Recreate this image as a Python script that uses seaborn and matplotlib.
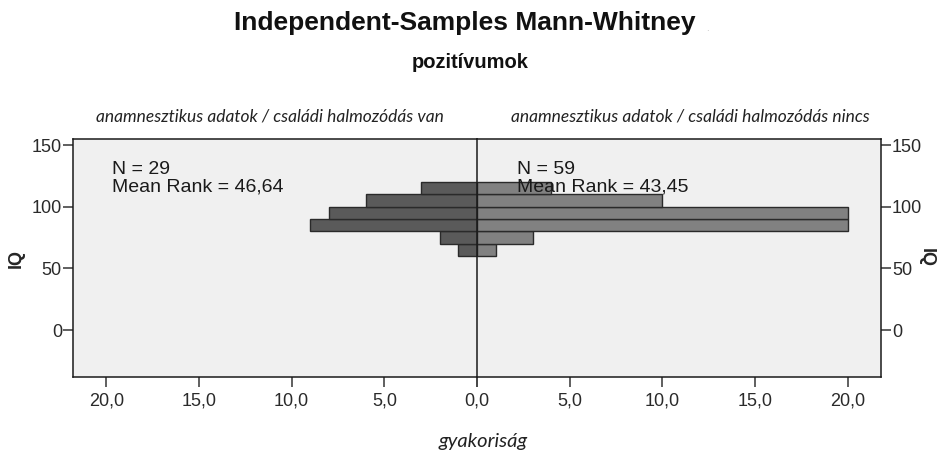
import numpy as np
import matplotlib
matplotlib.use("Agg")
import matplotlib.pyplot as plt
import seaborn as sns

# IQ bins (lower edges) and frequencies per group
bin_edges = [60, 70, 80, 90, 100, 110, 120]
van_counts = [1, 2, 9, 8, 6, 3]       # családi halmozódás van
nincs_counts = [1, 3, 20, 20, 10, 4]  # családi halmozódás nincs
group_labels = ["anamnesztikus adatok / családi halmozódás van",
                "anamnesztikus adatok / családi halmozódás nincs"]
group_stats = ["N = 29\nMean Rank = 46,64", "N = 59\nMean Rank = 43,45"]
x_ticks = [0, 5, 10, 15, 20]
y_ticks = [0, 50, 100, 150]

sns.set_style("white", rc={"xtick.bottom": True, "ytick.left": True,
                           "xtick.major.size": 7, "ytick.major.size": 7,
                           "xtick.major.width": 1.2, "ytick.major.width": 1.2,
                           "xtick.color": "#444444", "ytick.color": "#444444"})
plt.rcParams["font.family"] = ["Liberation Sans", "DejaVu Sans"]

bin_mids = [(a + b) / 2 for a, b in zip(bin_edges[:-1], bin_edges[1:])]

fig = plt.figure(figsize=(9.48, 4.51), dpi=100)
ax_l = fig.add_axes([73 / 948, 74 / 451, 404 / 948, 238 / 451])
ax_r = fig.add_axes([477 / 948, 74 / 451, 404 / 948, 238 / 451], sharey=ax_l)

xmax = 21.8
for ax, counts, col in [(ax_l, van_counts, "#5a5a5a"), (ax_r, nincs_counts, "#818181")]:
    ax.set_facecolor("#f0f0f0")
    sns.histplot(y=bin_mids, weights=counts, bins=bin_edges, ax=ax,
                 color=col, alpha=1, edgecolor="#2a2a2a", linewidth=1)
    ax.set_xlabel("")
    ax.set_ylabel("")
    for s in ax.spines.values():
        s.set_color("#1a1a1a")
        s.set_linewidth(1.1)
    ax.set_xticks(x_ticks)

ax_l.set_xticklabels([f"{t:.1f}".replace(".", ",") for t in x_ticks])
ax_r.set_xticklabels([""] + [f"{t:.1f}".replace(".", ",") for t in x_ticks[1:]])

ax_l.set_xlim(xmax, 0)
ax_r.set_xlim(0, xmax)
ax_l.set_ylim(-38, 155)
ax_l.set_yticks(y_ticks)
ax_l.spines["right"].set_visible(False)

for ax in (ax_l, ax_r):
    ax.tick_params(axis="x", bottom=True, direction="out", length=7, width=1.2,
                   color="#444444", pad=4, labelsize=13, labelcolor="#2a2a2a")
ax_l.tick_params(axis="y", left=True, labelleft=True, right=False, direction="out",
                 length=7, width=1.2, color="#444444", pad=1, labelsize=13,
                 labelcolor="#2a2a2a")
ax_r.tick_params(axis="y", left=False, labelleft=False, right=True, labelright=True,
                 direction="out", length=7, width=1.2, color="#444444", pad=1,
                 labelsize=13, labelcolor="#2a2a2a")

ax_l.set_ylabel("IQ", fontsize=13, fontweight="bold", labelpad=5)
ax_r.yaxis.set_label_position("right")
ax_r.set_ylabel("IQ", fontsize=13, fontweight="bold", rotation=270, labelpad=9)

ax_l.text(19.7, 137, group_stats[0], fontsize=14, va="top", ha="left", color="#1a1a1a",
          linespacing=1.05)
ax_r.text(2.16, 137, group_stats[1], fontsize=14, va="top", ha="left", color="#1a1a1a",
          linespacing=1.05)

it_font = ["Lato", "DejaVu Sans"]
fig.text(270 / 948, 1 - 116 / 451, group_labels[0], ha="center", va="center",
         fontsize=12.5, style="italic", family=it_font, color="#222222")
fig.text(690 / 948, 1 - 116 / 451, group_labels[1], ha="center", va="center",
         fontsize=12.5, style="italic", family=it_font, color="#222222")
fig.text(483 / 948, 1 - 441 / 451, "gyakoriság", ha="center", va="center",
         fontsize=14.5, style="italic", family=it_font, color="#222222")

fig.text(465 / 948, 1 - 23 / 451, "Independent-Samples Mann-Whitney", ha="center",
         va="center", fontsize=19, fontweight="bold", color="#111111")
fig.text(707 / 948, 1 - 28 / 451, ".", ha="center", va="center",
         fontsize=7, color="#bbbbbb")
fig.text(470 / 948, 1 - 63 / 451, "pozitívumok", ha="center", va="center",
         fontsize=14.5, fontweight="bold", color="#111111")

fig.savefig("out.png", dpi=100)
